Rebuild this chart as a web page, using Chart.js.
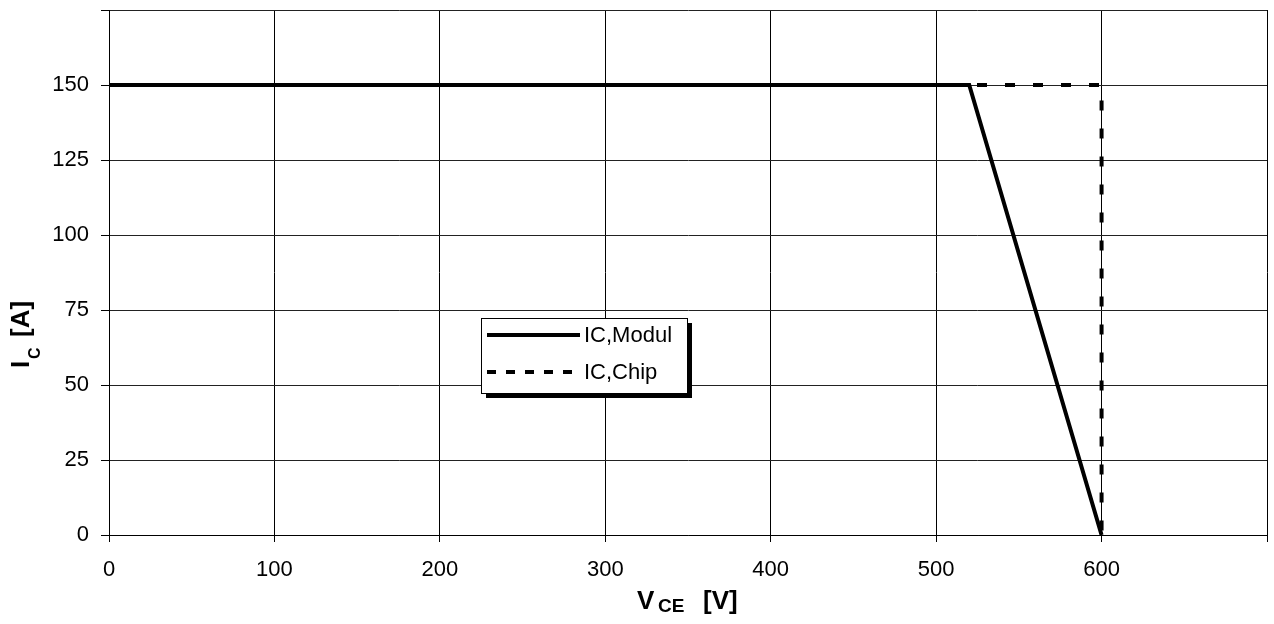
<!DOCTYPE html>
<html>
<head>
<meta charset="utf-8">
<script src="https://cdn.jsdelivr.net/npm/chart.js@4/dist/chart.umd.min.js"></script>
<style>
  html, body { margin: 0; padding: 0; background: #fff; }
  #wrap { width: 1274px; height: 624px; position: relative; }
</style>
</head>
<body>
<div id="wrap"><canvas id="c" width="1274" height="624"></canvas></div>
<script>
// Safe operating area: collector current vs collector-emitter voltage
const moduleVce = [0, 520, 600];
const moduleIc  = [150, 150, 0];
const chipVce   = [0, 600, 600];
const chipIc    = [150, 150, 0];

const seriesNames = ['IC,Modul', 'IC,Chip'];

const xTickLabels = ['0', '100', '200', '300', '400', '500', '600', ''];
const yTickLabels = ['0', '25', '50', '75', '100', '125', '150', ''];

const FONT = '"Liberation Sans", Arial, Helvetica, sans-serif';

function toPoints(xs, ys) {
  return xs.map((x, i) => ({ x: x, y: ys[i] }));
}

// Axis titles with subscripts: V_CE [V] and I_C [A]
const axisTitles = {
  id: 'axisTitles',
  afterDraw(chart) {
    const ctx = chart.ctx;
    ctx.save();
    ctx.fillStyle = '#000';
    ctx.textBaseline = 'alphabetic';
    ctx.textAlign = 'left';

    // horizontal title: each piece at its own offset along the baseline
    const parts = [
      { t: 'V',   f: 'bold 26px ' + FONT, x: 637, dy: 0 },
      { t: 'CE',  f: 'bold 19px ' + FONT, x: 658, dy: 3 },
      { t: '[V]', f: 'bold 26px ' + FONT, x: 703, dy: 0 }
    ];
    parts.forEach(p => {
      ctx.font = p.f;
      ctx.fillText(p.t, p.x, 609 + p.dy);
    });

    // vertical title, read bottom to top
    ctx.translate(29, 368);
    ctx.rotate(-Math.PI / 2);
    const vparts = [
      { t: 'I',   f: 'bold 26px ' + FONT, x: 0,  dy: 0 },
      { t: 'C',   f: 'bold 16px ' + FONT, x: 9,  dy: 11 },
      { t: '[A]', f: 'bold 26px ' + FONT, x: 31, dy: 0 }
    ];
    vparts.forEach(p => {
      ctx.font = p.f;
      ctx.fillText(p.t, p.x, p.dy);
    });
    ctx.restore();
  }
};

// Boxed legend with drop shadow inside the plot area
const boxLegend = {
  id: 'boxLegend',
  afterDatasetsDraw(chart) {
    const ctx = chart.ctx;
    const bx = 481, by = 318, bw = 206, bh = 75, sh = 5;
    ctx.save();
    ctx.fillStyle = '#000';
    ctx.fillRect(bx + sh, by + sh, bw, bh);
    ctx.fillStyle = '#fff';
    ctx.fillRect(bx, by, bw, bh);
    ctx.strokeStyle = '#000';
    ctx.lineWidth = 1;
    ctx.strokeRect(bx + 0.5, by + 0.5, bw, bh);

    const rows = [335, 372];
    const dashes = [[], [9, 10]];
    chart.data.datasets.forEach((ds, i) => {
      const y = rows[i];
      ctx.beginPath();
      ctx.setLineDash(dashes[i]);
      ctx.lineWidth = ds.borderWidth;
      ctx.strokeStyle = ds.borderColor;
      ctx.moveTo(487, y);
      ctx.lineTo(580, y);
      ctx.stroke();
      ctx.setLineDash([]);
      ctx.font = '22px ' + FONT;
      ctx.fillStyle = '#000';
      ctx.textBaseline = 'middle';
      ctx.textAlign = 'left';
      ctx.fillText(ds.label, 584, y + 1);
    });
    ctx.restore();
  }
};

new Chart(document.getElementById('c'), {
  type: 'line',
  data: {
    datasets: [
      {
        label: seriesNames[0],
        data: toPoints(moduleVce, moduleIc),
        borderColor: '#000',
        borderWidth: 4,
        borderJoinStyle: 'miter',
        pointRadius: 0,
        tension: 0,
        fill: false,
        order: 0
      },
      {
        label: seriesNames[1],
        data: toPoints(chipVce, chipIc),
        borderColor: '#000',
        borderWidth: 4,
        borderDash: [10, 18],
        borderJoinStyle: 'miter',
        pointRadius: 0,
        tension: 0,
        fill: false,
        order: 1
      }
    ]
  },
  options: {
    responsive: false,
    animation: false,
    layout: { padding: { left: 0, top: 10, right: 7, bottom: 0 } },
    plugins: { legend: { display: false }, tooltip: { enabled: false } },
    scales: {
      x: {
        type: 'linear',
        min: 0, max: 700,
        afterFit(scale) {
          scale.height = 89;
          scale.paddingLeft = 0;
          scale.paddingRight = 0;
        },
        ticks: {
          stepSize: 100,
          color: '#000',
          font: { family: FONT, size: 22 },
          padding: 15,
          maxRotation: 0,
          callback: (v) => xTickLabels[Math.round(v / 100)]
        },
        grid: { color: '#000', lineWidth: 1, tickLength: 7, tickColor: '#000' },
        border: { display: true, color: '#000', width: 1 }
      },
      y: {
        type: 'linear',
        min: 0, max: 175,
        afterFit(scale) {
          scale.width = 109;
          scale.paddingTop = 0;
          scale.paddingBottom = 0;
        },
        ticks: {
          stepSize: 25,
          color: '#000',
          font: { family: FONT, size: 22 },
          padding: 12,
          callback: (v) => yTickLabels[Math.round(v / 25)]
        },
        grid: { color: '#222', lineWidth: 1, tickLength: 8, tickColor: '#000' },
        border: { display: true, color: '#000', width: 1 }
      }
    }
  },
  plugins: [axisTitles, boxLegend]
});
</script>
</body>
</html>
